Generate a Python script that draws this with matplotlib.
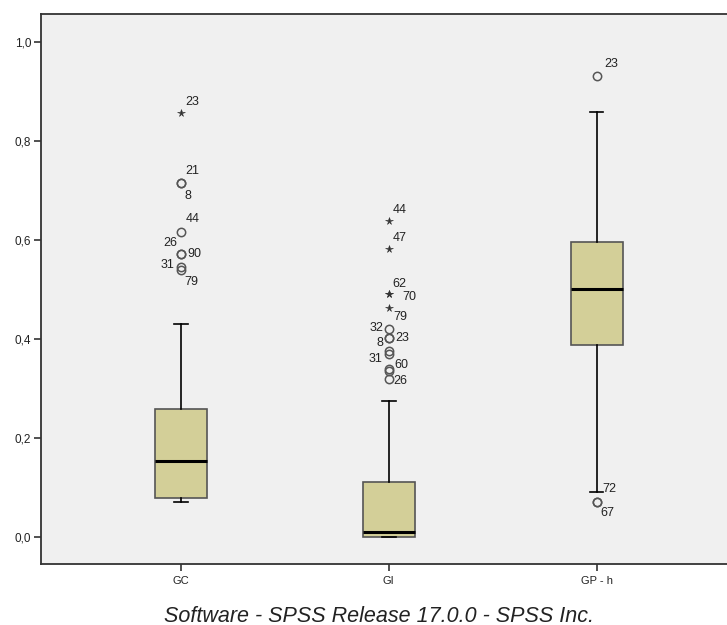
import matplotlib
matplotlib.use("Agg")
import matplotlib.pyplot as plt
from matplotlib.ticker import FuncFormatter

plt.rcParams['font.family'] = ['Liberation Sans', 'DejaVu Sans']

# box statistics
groups = ['GC', 'GI', 'GP - h']
q1 = [0.079, 0.001, 0.388]
medians = [0.153, 0.010, 0.500]
q3 = [0.258, 0.111, 0.595]
whisker_lo = [0.071, 0.0, 0.091]
whisker_hi = [0.430, 0.274, 0.858]

# outliers: group index, value, marker kind, case label
out_group = [0, 0, 0, 0, 0, 0, 0, 0,
             1, 1, 1, 1, 1, 1, 1, 1, 1, 1, 1, 1, 1,
             2, 2, 2]
out_value = [0.857, 0.714, 0.714, 0.615, 0.572, 0.572, 0.545, 0.539,
             0.638, 0.581, 0.491, 0.491, 0.462, 0.419, 0.401, 0.401, 0.376, 0.370, 0.339, 0.335, 0.319,
             0.930, 0.071, 0.071]
out_kind = ['*', 'o', 'o', 'o', 'o', 'o', 'o', 'o',
            '*', '*', '*', '*', '*', 'o', 'o', 'o', 'o', 'o', 'o', 'o', 'o',
            'o', 'o', 'o']
out_label = ['23', '21', '8', '44', '26', '90', '31', '79',
             '44', '47', '62', '70', '79', '32', '23', '8', '', '31', '60', '', '26',
             '23', '72', '67']
# where each case label sits relative to its point (pixels)
label_dx = [11, 11, 7, 12, -11, 13, -13, 10,
            11, 11, 11, 21, 12, -12, 13, -9, 0, -13, 13, 0, 12,
            15, 13, 11]
label_dy = [11, 12, -13, 13, 11, 0, 2, -12,
            11, 11, 10, -3, -9, 1, 0, -5, 0, -5, 4, 0, -2,
            12, 13, -11]

caption = 'Software - SPSS Release 17.0.0 - SPSS Inc.'

fig = plt.figure(figsize=(7.27, 6.25), dpi=100)
ax = fig.add_axes([41 / 727, 61 / 625, 686 / 727, 550 / 625])
ax.set_facecolor('#f0f0f0')

stats = []
for i, g in enumerate(groups):
    stats.append({'label': g, 'q1': q1[i], 'med': medians[i], 'q3': q3[i],
                  'whislo': whisker_lo[i], 'whishi': whisker_hi[i], 'fliers': []})

positions = [1, 2, 3]
ax.bxp(stats, positions=positions, widths=0.25, patch_artist=True, showfliers=False,
       boxprops=dict(facecolor='#d3cf98', edgecolor='#555555', linewidth=1.2),
       medianprops=dict(color='black', linewidth=2.2),
       whiskerprops=dict(color='black', linewidth=1.2),
       capprops=dict(color='black', linewidth=1.2),
       capwidths=0.065)

for g, v, k, lab, dx, dy in zip(out_group, out_value, out_kind, out_label, label_dx, label_dy):
    x = positions[g]
    if k == 'o':
        ax.plot(x, v, marker='o', ms=6, mfc='none', mec='#555555', mew=1.1, ls='none')
    else:
        ax.plot(x, v, marker='*', ms=5.5, color='#333333', mew=0.4, ls='none')
    if lab:
        ax.annotate(lab, (x, v), xytext=(dx * 0.72, dy * 0.72), textcoords='offset points',
                    ha='center', va='center', fontsize=9, color='#222222')

ax.set_xlim(0.327, 3.627)
ax.set_ylim(-0.0545, 1.056)
ax.set_yticks([0.0, 0.2, 0.4, 0.6, 0.8, 1.0])
ax.yaxis.set_major_formatter(FuncFormatter(lambda v, p: f'{v:.1f}'.replace('.', ',')))
ax.set_xticks(positions)
ax.set_xticklabels(groups)
ax.tick_params(axis='y', length=5, width=1.2, color='#333333', labelsize=8.5,
               labelcolor='#222222', pad=2)
ax.tick_params(axis='x', length=5, width=1.2, color='#333333', labelsize=8,
               labelcolor='#222222', pad=4)

for side in ['left', 'bottom', 'top']:
    ax.spines[side].set_color('#333333')
    ax.spines[side].set_linewidth(1.3)
ax.spines['right'].set_visible(False)

fig.text(379 / 727, 1 - 616 / 625, caption, ha='center', va='center',
         fontsize=15.5, style='italic', color='#222222')

fig.savefig('out.png', dpi=100)
